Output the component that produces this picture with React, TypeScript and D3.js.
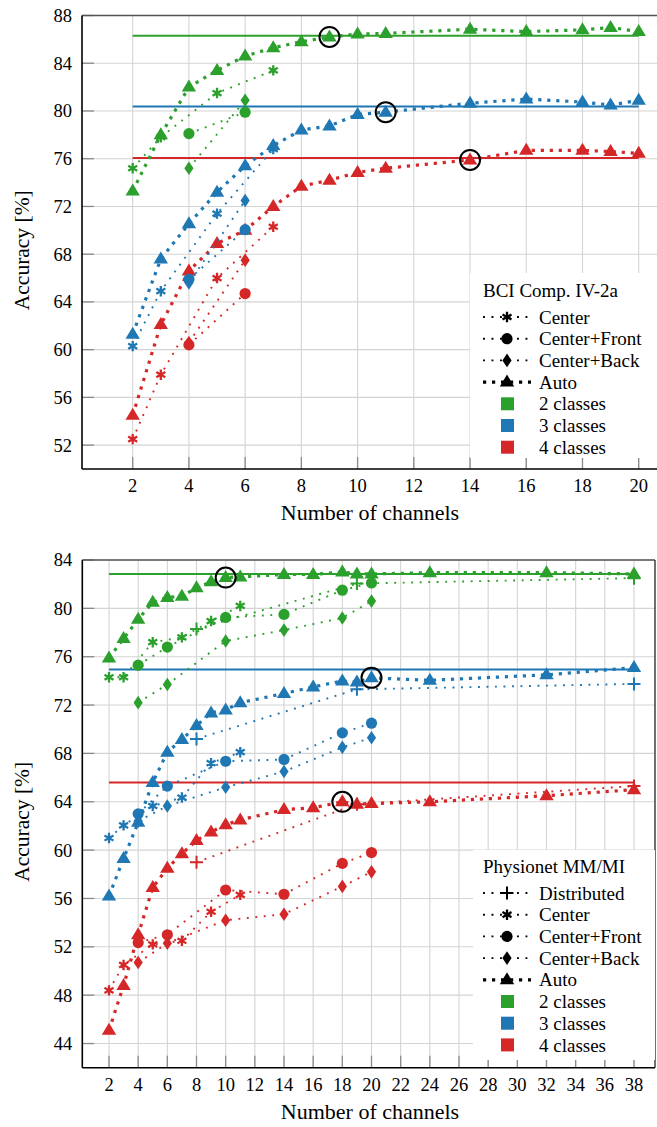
import React from "react";
import * as d3 from "d3";

const GREEN = "#2ca02c";
const BLUE = "#1f77b4";
const RED = "#d62728";
const FONT = "'Liberation Serif', 'Times New Roman', serif";

// ---- BCI Comp. IV-2a (top panel) ----
const bciXTicks = [2, 4, 6, 8, 10, 12, 14, 16, 18, 20];
const bciYTicks = [52, 56, 60, 64, 68, 72, 76, 80, 84, 88];
const bciCenterX = [2, 3, 5, 7];
const bciFrontX = [4, 6];
const bciBackX = [4, 6];
const bciAutoX = [2, 3, 4, 5, 6, 7, 8, 9, 10, 11, 14, 16, 18, 19, 20];

const bci2Center = [75.2, 77.8, 81.5, 83.4];
const bci2Front = [78.1, 79.9];
const bci2Back = [75.2, 80.9];
const bci2Auto = [73.3, 78.0, 82.0, 83.4, 84.6, 85.3, 85.8, 86.2, 86.45, 86.5, 86.85, 86.65, 86.8, 87.0, 86.65];

const bci3Center = [60.3, 64.9, 71.4, 76.8];
const bci3Front = [65.9, 70.05];
const bci3Back = [65.6, 72.5];
const bci3Auto = [61.3, 67.6, 70.55, 73.2, 75.4, 77.1, 78.4, 78.75, 79.7, 79.9, 80.65, 81.0, 80.75, 80.5, 80.9];

const bci4Center = [52.5, 57.9, 66.0, 70.3];
const bci4Front = [60.4, 64.7];
const bci4Back = [60.6, 67.5];
const bci4Auto = [54.5, 62.1, 66.6, 68.9, 70.0, 72.0, 73.7, 74.2, 74.85, 75.2, 75.9, 76.7, 76.7, 76.6, 76.45];

const bciRef = [86.3, 80.37, 76.05]; // 2, 3, 4 classes
const bciBest = [9, 11, 14];

// ---- Physionet MM/MI (bottom panel) ----
const phyXTicks = [2, 4, 6, 8, 10, 12, 14, 16, 18, 20, 22, 24, 26, 28, 30, 32, 34, 36, 38];
const phyYTicks = [44, 48, 52, 56, 60, 64, 68, 72, 76, 80, 84];
const phyDistX = [8, 19, 38];
const phyCenterX = [2, 3, 5, 7, 9, 11];
const phyFrontX = [4, 6, 10, 14, 18, 20];
const phyBackX = [4, 6, 10, 14, 18, 20];
const phyAutoX = [2, 3, 4, 5, 6, 7, 8, 9, 10, 11, 14, 16, 18, 19, 20, 24, 32, 38];

const phy2Dist = [78.3, 82.05, 82.5];
const phy2Center = [74.3, 74.3, 77.2, 77.6, 78.95, 80.2];
const phy2Front = [75.3, 76.8, 79.25, 79.5, 81.5, 82.1];
const phy2Back = [72.2, 73.7, 77.3, 78.2, 79.2, 80.6];
const phy2Auto = [75.9, 77.5, 79.1, 80.5, 80.9, 81.0, 81.7, 82.2, 82.55, 82.6, 82.8, 82.8, 83.0, 82.85, 82.85, 82.95, 82.95, 82.85];

const phy3Dist = [69.2, 73.3, 73.75];
const phy3Center = [61.0, 62.05, 63.65, 64.35, 67.2, 68.1];
const phy3Front = [63.0, 65.3, 67.35, 67.5, 69.7, 70.5];
const phy3Back = [62.4, 63.65, 65.2, 66.5, 68.5, 69.3];
const phy3Auto = [56.2, 59.3, 62.3, 65.6, 68.1, 69.15, 70.3, 71.35, 71.6, 72.2, 72.95, 73.5, 74.0, 73.9, 74.25, 74.05, 74.5, 75.1];

const phy4Dist = [59.0, 63.8, 65.3];
const phy4Center = [48.4, 50.5, 52.2, 52.5, 54.9, 56.3];
const phy4Front = [52.35, 53.0, 56.7, 56.35, 58.9, 59.8];
const phy4Back = [50.7, 52.3, 54.2, 54.7, 57.0, 58.2];
const phy4Auto = [45.1, 48.8, 53.0, 56.9, 58.5, 59.7, 60.8, 61.5, 62.1, 62.5, 63.35, 63.5, 64.0, 63.8, 63.85, 64.0, 64.5, 65.0];

const phyRef = [82.84, 74.95, 65.6];
const phyBest = [10, 20, 18];

const classNames = ["2 classes", "3 classes", "4 classes"];
const classColors = [GREEN, BLUE, RED];

const kindLabel = {
  dist: "Distributed",
  center: "Center",
  front: "Center+Front",
  back: "Center+Back",
  auto: "Auto",
};

const Marker = ({ kind, x, y, color }) => {
  if (kind === "auto")
    return <path d={`M${x},${y - 7.5}L${x + 7.2},${y + 4.5}L${x - 7.2},${y + 4.5}Z`} fill={color} />;
  if (kind === "front") return <circle cx={x} cy={y} r={5.6} fill={color} />;
  if (kind === "back")
    return <path d={`M${x},${y - 6.8}L${x + 4.6},${y}L${x},${y + 6.8}L${x - 4.6},${y}Z`} fill={color} />;
  if (kind === "dist")
    return (
      <path d={`M${x - 6.5},${y}H${x + 6.5}M${x},${y - 6.5}V${y + 6.5}`} stroke={color} strokeWidth={2} />
    );
  // asterisk
  const r = 5.2;
  const d = [90, 30, 150]
    .map((a) => {
      const t = (a * Math.PI) / 180;
      const dx = r * Math.cos(t);
      const dy = r * Math.sin(t);
      return `M${x - dx},${y - dy}L${x + dx},${y + dy}`;
    })
    .join("");
  return <path d={d} stroke={color} strokeWidth={2.3} />;
};

const dashFor = (kind) =>
  kind === "auto" ? { strokeWidth: 3.2, strokeDasharray: "3.2 5.8" } : { strokeWidth: 1.9, strokeDasharray: "1.9 6.6" };

const Panel = ({ x, y, left, right, top, bottom, xTicks, yTicks, classes, refTo, legend }) => {
  const line = d3
    .line()
    .x((d) => x(d[0]))
    .y((d) => y(d[1]));
  const gridColor = "#d4d4d4";
  return (
    <g fontFamily={FONT}>
      {/* grid */}
      {yTicks.map((t) => (
        <line key={"gy" + t} x1={left} x2={right} y1={y(t)} y2={y(t)} stroke={gridColor} strokeWidth={1.1} />
      ))}
      {xTicks.map((t) => (
        <line key={"gx" + t} x1={x(t)} x2={x(t)} y1={top} y2={bottom} stroke={gridColor} strokeWidth={1.1} />
      ))}
      {/* tick marks */}
      {yTicks.map((t) => (
        <line key={"ty" + t} x1={left} x2={left + 12} y1={y(t)} y2={y(t)} stroke="#8a8a8a" strokeWidth={1.3} />
      ))}
      {xTicks.map((t) => (
        <line key={"tx" + t} x1={x(t)} x2={x(t)} y1={bottom} y2={bottom - 12} stroke="#8a8a8a" strokeWidth={1.3} />
      ))}
      {/* reference lines */}
      {classes.map((c, i) => (
        <line key={"ref" + i} x1={x(2)} x2={x(refTo)} y1={y(c.ref)} y2={y(c.ref)} stroke={c.color} strokeWidth={2} />
      ))}
      {/* series */}
      {classes.map((c, i) => (
        <g key={"cls" + i}>
          {c.series.map((s) => {
            const pts = s.xs.map((v, j) => [v, s.ys[j]]);
            return (
              <g key={s.kind}>
                <path d={line(pts)} fill="none" stroke={c.color} {...dashFor(s.kind)} />
                {pts.map((p, j) => (
                  <Marker key={j} kind={s.kind} x={x(p[0])} y={y(p[1])} color={c.color} />
                ))}
              </g>
            );
          })}
        </g>
      ))}
      {/* best points */}
      {classes.map((c, i) => {
        const auto = c.series.find((s) => s.kind === "auto");
        const k = auto.xs.indexOf(c.best);
        return (
          <circle key={"best" + i} cx={x(c.best)} cy={y(auto.ys[k])} r={10} fill="none" stroke="#000" strokeWidth={2} />
        );
      })}
      {/* axes box */}
      <line x1={left} x2={right} y1={top} y2={top} stroke="#555" strokeWidth={1.6} />
      <line x1={right} x2={right} y1={top} y2={bottom} stroke="#222" strokeWidth={1.3} />
      <line x1={left} x2={left} y1={top} y2={bottom} stroke="#000" strokeWidth={1.6} />
      <line x1={left} x2={right} y1={bottom} y2={bottom} stroke="#000" strokeWidth={1.6} />
      {/* tick labels */}
      {yTicks.map((t) => (
        <text key={"ly" + t} x={left - 10} y={y(t)} dy="0.35em" textAnchor="end" fontSize={18.5}>
          {t}
        </text>
      ))}
      {xTicks.map((t) => (
        <text key={"lx" + t} x={x(t)} y={bottom + 23} textAnchor="middle" fontSize={18.5}>
          {t}
        </text>
      ))}
      <text x={370} y={bottom + 51} textAnchor="middle" fontSize={22}>
        Number of channels
      </text>
      <text transform={`translate(29,${(top + bottom) / 2 + 8}) rotate(-90)`} textAnchor="middle" fontSize={21.5}>
        Accuracy [%]
      </text>
      {/* legend */}
      <rect x={legend.x} y={legend.y} width={legend.w} height={legend.h} fill="#fff" />
      <text x={483} y={legend.titleY} dy="0.35em" fontSize={19}>
        {legend.title}
      </text>
      {legend.kinds.map((k, i) => {
        const cy = legend.titleY + 26.5 + i * 21.7;
        return (
          <g key={k}>
            <line x1={483} x2={531} y1={cy} y2={cy} stroke="#000" {...dashFor(k)} />
            <Marker kind={k} x={507} y={cy} color="#000" />
            <text x={539} y={cy} dy="0.35em" fontSize={19}>
              {kindLabel[k]}
            </text>
          </g>
        );
      })}
      {classNames.map((n, i) => {
        const cy = legend.titleY + 26.5 + (legend.kinds.length + i) * 21.7;
        return (
          <g key={n}>
            <rect x={501} y={cy - 6.5} width={13} height={13} fill={classColors[i]} />
            <text x={539} y={cy} dy="0.35em" fontSize={19}>
              {n}
            </text>
          </g>
        );
      })}
    </g>
  );
};

export default function App() {
  const xTop = d3.scaleLinear().domain([2, 20]).range([132.7, 638.7]);
  const yTop = d3.scaleLinear().domain([50, 88]).range([469, 15.5]);
  const xBot = d3.scaleLinear().domain([2, 38]).range([109, 634]);
  const yBot = d3.scaleLinear().domain([42, 84]).range([1067.7, 560]);

  const bciClasses = [
    {
      color: RED, ref: bciRef[2], best: bciBest[2],
      series: [
        { kind: "center", xs: bciCenterX, ys: bci4Center },
        { kind: "front", xs: bciFrontX, ys: bci4Front },
        { kind: "back", xs: bciBackX, ys: bci4Back },
        { kind: "auto", xs: bciAutoX, ys: bci4Auto },
      ],
    },
    {
      color: BLUE, ref: bciRef[1], best: bciBest[1],
      series: [
        { kind: "center", xs: bciCenterX, ys: bci3Center },
        { kind: "front", xs: bciFrontX, ys: bci3Front },
        { kind: "back", xs: bciBackX, ys: bci3Back },
        { kind: "auto", xs: bciAutoX, ys: bci3Auto },
      ],
    },
    {
      color: GREEN, ref: bciRef[0], best: bciBest[0],
      series: [
        { kind: "center", xs: bciCenterX, ys: bci2Center },
        { kind: "front", xs: bciFrontX, ys: bci2Front },
        { kind: "back", xs: bciBackX, ys: bci2Back },
        { kind: "auto", xs: bciAutoX, ys: bci2Auto },
      ],
    },
  ];

  const phyClasses = [
    {
      color: RED, ref: phyRef[2], best: phyBest[2],
      series: [
        { kind: "dist", xs: phyDistX, ys: phy4Dist },
        { kind: "center", xs: phyCenterX, ys: phy4Center },
        { kind: "front", xs: phyFrontX, ys: phy4Front },
        { kind: "back", xs: phyBackX, ys: phy4Back },
        { kind: "auto", xs: phyAutoX, ys: phy4Auto },
      ],
    },
    {
      color: BLUE, ref: phyRef[1], best: phyBest[1],
      series: [
        { kind: "dist", xs: phyDistX, ys: phy3Dist },
        { kind: "center", xs: phyCenterX, ys: phy3Center },
        { kind: "front", xs: phyFrontX, ys: phy3Front },
        { kind: "back", xs: phyBackX, ys: phy3Back },
        { kind: "auto", xs: phyAutoX, ys: phy3Auto },
      ],
    },
    {
      color: GREEN, ref: phyRef[0], best: phyBest[0],
      series: [
        { kind: "dist", xs: phyDistX, ys: phy2Dist },
        { kind: "center", xs: phyCenterX, ys: phy2Center },
        { kind: "front", xs: phyFrontX, ys: phy2Front },
        { kind: "back", xs: phyBackX, ys: phy2Back },
        { kind: "auto", xs: phyAutoX, ys: phy2Auto },
      ],
    },
  ];

  return (
    <svg
      width={657}
      height={1127}
      style={{ position: "absolute", left: 0, top: 0, background: "#fff" }}
    >
      <rect width={657} height={1127} fill="#fff" />
      <Panel
        x={xTop}
        y={yTop}
        left={82}
        right={689}
        top={15.5}
        bottom={469}
        xTicks={bciXTicks}
        yTicks={bciYTicks}
        classes={bciClasses}
        refTo={20}
        legend={{
          x: 470, y: 273, w: 220, h: 185, titleY: 290.5,
          title: "BCI Comp. IV-2a",
          kinds: ["center", "front", "back", "auto"],
        }}
      />
      <Panel
        x={xBot}
        y={yBot}
        left={82.3}
        right={655}
        top={560}
        bottom={1067.7}
        xTicks={phyXTicks}
        yTicks={phyYTicks}
        classes={phyClasses}
        refTo={38}
        legend={{
          x: 473, y: 850, w: 182, h: 210, titleY: 866.5,
          title: "Physionet MM/MI",
          kinds: ["dist", "center", "front", "back", "auto"],
        }}
      />
    </svg>
  );
}
